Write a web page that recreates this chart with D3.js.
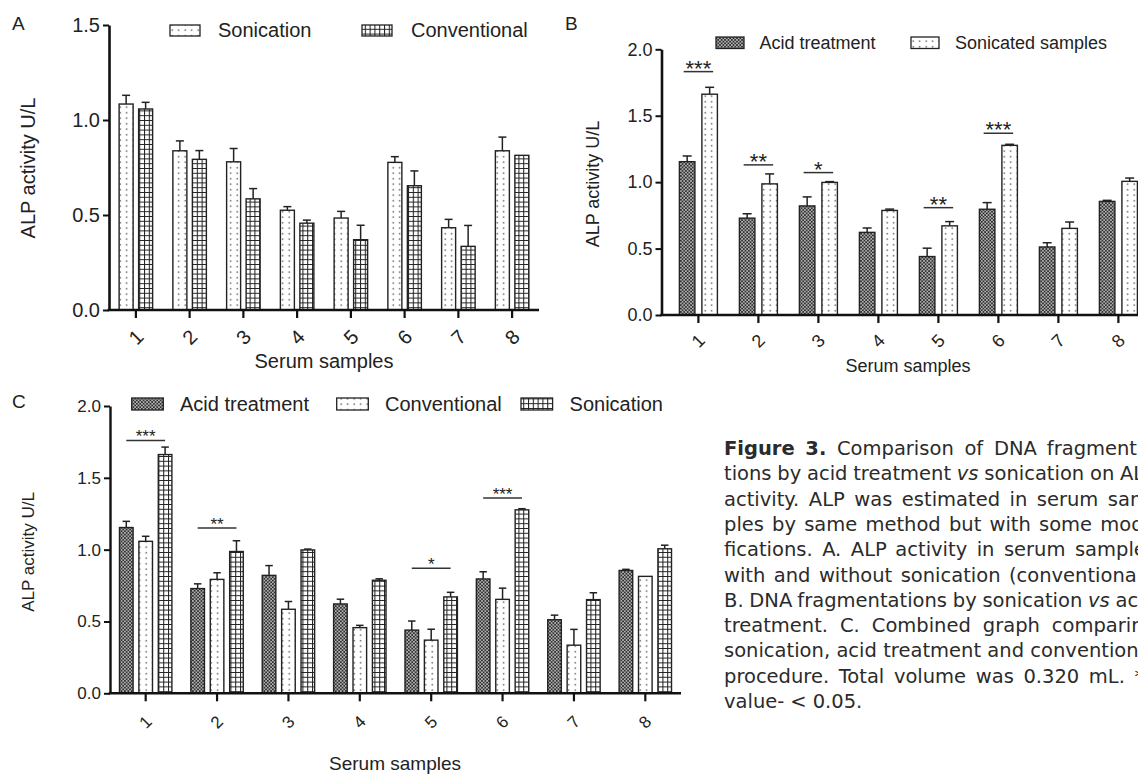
<!DOCTYPE html>
<html>
<head>
<meta charset="utf-8">
<script src="https://cdn.jsdelivr.net/npm/d3@7"></script>
<style>
  body { margin: 0; background: #fff; }
  svg { display: block; }
</style>
</head>
<body>
<svg id="svg" width="1138" height="776"></svg>
<script>
// ---- data ----
const samples = ["1", "2", "3", "4", "5", "6", "7", "8"];
const ticksA = [0, 0.5, 1.0, 1.5];
const ticksBC = [0, 0.5, 1.0, 1.5, 2.0];

// panel A
const sonicationA = [1.084, 0.838, 0.78, 0.525, 0.484, 0.777, 0.433, 0.838];
const sonicationAErr = [0.046, 0.052, 0.07, 0.019, 0.035, 0.03, 0.044, 0.072];
const conventional = [1.058, 0.793, 0.585, 0.457, 0.37, 0.654, 0.335, 0.814];
const conventionalErr = [0.035, 0.046, 0.054, 0.016, 0.076, 0.078, 0.11, 0];

// panel B (and C)
const acid = [1.154, 0.729, 0.821, 0.622, 0.44, 0.796, 0.512, 0.855];
const acidErr = [0.043, 0.033, 0.068, 0.033, 0.063, 0.05, 0.032, 0.008];
const sonicated = [1.662, 0.987, 0.998, 0.787, 0.671, 1.277, 0.652, 1.006];
const sonicatedErr = [0.052, 0.075, 0.006, 0.01, 0.032, 0.008, 0.048, 0.025];

// significance brackets
const sigGroupsB = ["1", "2", "3", "5", "6"];
const sigLabelsB = ["***", "**", "*", "**", "***"];
const sigLevelsB = [1.832, 1.13, 1.072, 0.808, 1.368];
const sigGroupsC = ["1", "2", "5", "6"];
const sigLabelsC = ["***", "**", "*", "***"];
const sigLevelsC = [1.76, 1.15, 0.871, 1.359];

const captionLines = [
  "Figure 3. Comparison of DNA fragmenta-",
  "tions by acid treatment vs sonication on ALP",
  "activity. ALP was estimated in serum sam-",
  "ples by same method but with some modi-",
  "fications. A. ALP activity in serum samples",
  "with and without sonication (conventional).",
  "B. DNA fragmentations by sonication vs acid",
  "treatment. C. Combined graph comparing",
  "sonication, acid treatment and conventional",
  "procedure. Total volume was 0.320 mL. *P",
  "value- < 0.05."
];

const font = "'Liberation Sans', Arial, sans-serif";
const ink = "#222";

let svg = d3.select("#svg");
svg.append("rect").attr("width", 1138).attr("height", 776).attr("fill", "#fff");

// ---- fill patterns ----
let defs = svg.append("defs");

let dots = defs.append("pattern").attr("id", "dots")
  .attr("patternUnits", "userSpaceOnUse").attr("width", 6.5).attr("height", 5.5);
dots.append("rect").attr("width", 6.5).attr("height", 5.5).attr("fill", "#fff");
dots.append("circle").attr("cx", 3.2).attr("cy", 2.7).attr("r", 0.8).attr("fill", "#555");

let grid = defs.append("pattern").attr("id", "grid")
  .attr("patternUnits", "userSpaceOnUse").attr("width", 4.8).attr("height", 4.8);
grid.append("rect").attr("width", 4.8).attr("height", 4.8).attr("fill", "#fff");
grid.append("path").attr("d", "M0,0.5H4.8M0.5,0V4.8")
  .attr("stroke", "#222").attr("stroke-width", 1.1).attr("fill", "none");

let check = defs.append("pattern").attr("id", "check")
  .attr("patternUnits", "userSpaceOnUse").attr("width", 3.4).attr("height", 3.4);
check.append("rect").attr("width", 3.4).attr("height", 3.4).attr("fill", "#2f2f2f");
check.append("circle").attr("cx", 0.85).attr("cy", 0.85).attr("r", 0.75).attr("fill", "#f4f4f4");
check.append("circle").attr("cx", 2.55).attr("cy", 2.55).attr("r", 0.75).attr("fill", "#f4f4f4");

// ---- one bar panel ----
function drawPanel(p) {
  const g = svg.append("g");
  const x = d3.scaleBand().domain(samples).range(p.band);
  const y = d3.scaleLinear().domain([0, p.yMax]).range(p.yRange);
  const names = p.series.map((s) => s.name);
  const half = ((names.length - 1) / 2) * p.step;
  const off = d3.scalePoint().domain(names).range([-half, half]);
  const cx = (k, name) => x(k) + x.bandwidth() / 2 + off(name);

  // bars + error bars
  p.series.forEach((s) => {
    const rows = samples.map((k, i) => ({ k, v: s.values[i], e: s.errs[i] }));
    const sg = g.append("g");
    sg.selectAll("line.err")
      .data(rows)
      .join("line")
      .attr("x1", (d) => cx(d.k, s.name))
      .attr("x2", (d) => cx(d.k, s.name))
      .attr("y1", (d) => y(d.v))
      .attr("y2", (d) => y(d.v + d.e))
      .attr("stroke", ink)
      .attr("stroke-width", 1.5);
    sg.selectAll("line.cap")
      .data(rows.filter((d) => d.e > 0))
      .join("line")
      .attr("x1", (d) => cx(d.k, s.name) - p.cap / 2)
      .attr("x2", (d) => cx(d.k, s.name) + p.cap / 2)
      .attr("y1", (d) => y(d.v + d.e))
      .attr("y2", (d) => y(d.v + d.e))
      .attr("stroke", ink)
      .attr("stroke-width", 1.5);
    sg.selectAll("rect")
      .data(rows)
      .join("rect")
      .attr("x", (d) => cx(d.k, s.name) - p.bw / 2)
      .attr("y", (d) => y(d.v))
      .attr("width", p.bw)
      .attr("height", (d) => y(0) - y(d.v))
      .attr("fill", `url(#${s.pattern})`)
      .attr("stroke", ink)
      .attr("stroke-width", 1.4);
  });

  // y axis
  const ya = g.append("g")
    .attr("transform", `translate(${p.left},0)`)
    .call(d3.axisLeft(y).tickValues(p.yTicks).tickSize(6).tickSizeOuter(0).tickPadding(3).tickFormat(d3.format(".1f")));
  ya.select(".domain").attr("stroke", "#111").attr("stroke-width", p.axisW);
  ya.selectAll(".tick line").attr("stroke", "#111").attr("stroke-width", 2);
  ya.selectAll(".tick text").attr("font-family", font).attr("font-size", p.tickFont).attr("fill", ink);

  // x axis
  const xa = g.append("g")
    .attr("transform", `translate(0,${y(0)})`)
    .call(d3.axisBottom(x).tickSize(8).tickSizeOuter(0).tickFormat(""));
  xa.select(".domain").remove();
  xa.selectAll(".tick line").attr("stroke", "#111").attr("stroke-width", 2.2);
  g.append("line")
    .attr("x1", p.left - p.axisW / 2)
    .attr("x2", p.right)
    .attr("y1", y(0))
    .attr("y2", y(0))
    .attr("stroke", "#111")
    .attr("stroke-width", p.axisW);

  g.selectAll("text.xlab")
    .data(samples)
    .join("text")
    .attr("transform", (d) => `translate(${x(d) + x.bandwidth() / 2},${y(0) + p.xlabDy}) rotate(-45)`)
    .attr("text-anchor", "middle")
    .attr("dominant-baseline", "central")
    .attr("font-family", font)
    .attr("font-size", p.tickFont)
    .attr("fill", ink)
    .text((d) => d);

  // titles
  g.append("text")
    .attr("transform", `translate(${p.yTitle[0]},${p.yTitle[1]}) rotate(-90)`)
    .attr("text-anchor", "middle")
    .attr("dominant-baseline", "central")
    .attr("font-family", font)
    .attr("font-size", p.titleFont)
    .attr("fill", ink)
    .text("ALP activity U/L");
  g.append("text")
    .attr("x", p.xTitle[0])
    .attr("y", p.xTitle[1])
    .attr("text-anchor", "middle")
    .attr("font-family", font)
    .attr("font-size", p.xTitleFont)
    .attr("fill", ink)
    .text("Serum samples");
  g.append("text")
    .attr("x", p.label[1])
    .attr("y", p.label[2])
    .attr("font-family", font)
    .attr("font-size", 19)
    .attr("fill", ink)
    .text(p.label[0]);

  // legend
  p.series.forEach((s, i) => {
    g.append("rect")
      .attr("x", p.legend.xs[i])
      .attr("y", p.legend.y)
      .attr("width", p.legend.w)
      .attr("height", p.legend.h)
      .attr("fill", `url(#${s.pattern})`)
      .attr("stroke", ink)
      .attr("stroke-width", 1.3);
    g.append("text")
      .attr("x", p.legend.tx[i])
      .attr("y", p.legend.ty)
      .attr("font-family", font)
      .attr("font-size", p.legend.font)
      .attr("fill", ink)
      .text(s.name);
  });

  // significance lines
  if (p.sig) {
    const first = names[0];
    const last = names[names.length - 1];
    p.sig.groups.forEach((k, i) => {
      const x1 = cx(k, first) - p.sig.ext;
      const x2 = cx(k, last) + p.sig.ext;
      const ly = y(p.sig.levels[i]);
      g.append("line")
        .attr("x1", x1).attr("x2", x2).attr("y1", ly).attr("y2", ly)
        .attr("stroke", "#333").attr("stroke-width", 1.5);
      g.append("text")
        .attr("x", (x1 + x2) / 2)
        .attr("y", ly + p.sig.dy)
        .attr("text-anchor", "middle")
        .attr("font-family", font)
        .attr("font-size", p.sig.font)
        .attr("fill", ink)
        .text(p.sig.labels[i]);
    });
  }
}

drawPanel({
  label: ["A", 12, 30],
  left: 109, right: 539, band: [109, 539],
  yMax: 1.5, yRange: [310, 25], yTicks: ticksA,
  series: [
    { name: "Sonication", values: sonicationA, errs: sonicationAErr, pattern: "dots" },
    { name: "Conventional", values: conventional, errs: conventionalErr, pattern: "grid" }
  ],
  step: 19.5, bw: 14, cap: 8, axisW: 2.6,
  tickFont: 20, titleFont: 20, xTitleFont: 20, xlabDy: 27,
  yTitle: [28, 168], xTitle: [324, 368],
  legend: { xs: [170, 362], tx: [218, 411], y: 25, w: 30, h: 11, ty: 37, font: 20 }
});

drawPanel({
  label: ["B", 565, 30],
  left: 661.5, right: 1140, band: [668.4, 1148.4],
  yMax: 2, yRange: [315, 49.3], yTicks: ticksBC,
  series: [
    { name: "Acid treatment", values: acid, errs: acidErr, pattern: "check" },
    { name: "Sonicated samples", values: sonicated, errs: sonicatedErr, pattern: "dots" }
  ],
  step: 22.5, bw: 15.5, cap: 9, axisW: 2.6,
  tickFont: 18, titleFont: 18, xTitleFont: 18, xlabDy: 26,
  yTitle: [593, 184], xTitle: [908, 372],
  legend: { xs: [716, 911], tx: [759.5, 955], y: 37, w: 28, h: 11.5, ty: 49, font: 18 },
  sig: { groups: sigGroupsB, labels: sigLabelsB, levels: sigLevelsB, ext: 3.5, font: 22, dy: 4 }
});

drawPanel({
  label: ["C", 12, 408],
  left: 110, right: 681, band: [110, 681],
  yMax: 2, yRange: [693.3, 406], yTicks: ticksBC,
  series: [
    { name: "Acid treatment", values: acid, errs: acidErr, pattern: "check" },
    { name: "Conventional", values: conventional, errs: conventionalErr, pattern: "dots" },
    { name: "Sonication", values: sonicated, errs: sonicatedErr, pattern: "grid" }
  ],
  step: 19.4, bw: 13.6, cap: 7.5, axisW: 2.4,
  tickFont: 17, titleFont: 17, xTitleFont: 19, xlabDy: 29,
  yTitle: [28, 552], xTitle: [395, 770],
  legend: { xs: [131.7, 336.7, 521], tx: [180, 385, 569.6], y: 398, w: 31.6, h: 12, ty: 411, font: 20 },
  sig: { groups: sigGroupsC, labels: sigLabelsC, levels: sigLevelsC, ext: 0, font: 17, dy: 2 }
});

// ---- caption, justified; the column runs past the right edge as in the scan ----
const capX = 724;
const capW = 432;
const capY = 455;
const capLH = 25.3;
let cap = svg.append("g")
  .attr("font-family", "'DejaVu Sans', sans-serif")
  .attr("font-size", 19.5)
  .attr("fill", "#2b2b2b");

captionLines.forEach((ln, li) => {
  const t = cap.append("text").attr("y", capY + li * capLH);
  const words = ln.split(" ");
  const spans = words.map((w, wi) => {
    const bold = li === 0 && wi < 2;
    return t.append("tspan")
      .attr("font-weight", bold ? 700 : 400)
      .attr("font-style", w === "vs" ? "italic" : "normal")
      .text(w);
  });
  const widths = spans.map((s) => s.node().getComputedTextLength());
  const total = d3.sum(widths);
  const justify = li < captionLines.length - 1;
  const gap = justify ? Math.max(4, (capW - total) / (words.length - 1)) : 6;
  let cur = capX;
  spans.forEach((s, i) => {
    s.attr("x", cur);
    cur += widths[i] + gap;
  });
});
</script>
</body>
</html>
